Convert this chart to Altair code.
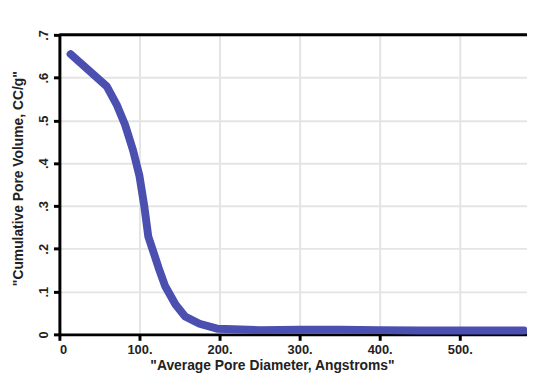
import altair as alt
import pandas as pd

diameter = [14, 59, 72, 82, 92, 100, 106, 111, 117, 124, 132, 145, 157, 175, 198, 250, 300, 350, 400, 450, 500, 540, 580]
volume = [0.655, 0.58, 0.535, 0.49, 0.43, 0.37, 0.30, 0.229, 0.195, 0.155, 0.113, 0.07, 0.042, 0.025, 0.013, 0.010, 0.011, 0.011, 0.010, 0.009, 0.009, 0.009, 0.009]
x_ticks = [0, 100, 200, 300, 400, 500]
y_ticks = [0, 0.1, 0.2, 0.3, 0.4, 0.5, 0.6, 0.7]

df = pd.DataFrame({"d": diameter, "v": volume})

FONT = "Liberation Sans"

x_enc = alt.X("d:Q", scale=alt.Scale(domain=[0, 584], nice=False, zero=False),
              axis=alt.Axis(values=x_ticks, title='"Average Pore Diameter, Angstroms"',
                            labelExpr="datum.value == 0 ? '0' : datum.value + '.'",
                            domainColor="black", domainWidth=3, tickColor="black", tickWidth=3,
                            tickSize=6, labelFontSize=13, labelFontWeight="bold",
                            labelColor="#222", labelPadding=3, titleFontSize=14, titleFontWeight="bold",
                            titleColor="#222", titleX=215, titleY=32, titleBaseline="middle",
                            titleAnchor="start", titleAlign="center",
                            gridColor="#e4e4e4", gridWidth=2, labelFont=FONT, titleFont=FONT))
y_enc = alt.Y("v:Q", scale=alt.Scale(domain=[0, 0.7], nice=False),
              axis=alt.Axis(values=y_ticks, title='"Cumulative Pore Volume, CC/g"',
                            labelExpr="datum.value == 0 ? '0' : replace(format(datum.value, '.1f'), '0.', '.')",
                            labelAngle=270, labelAlign="center", labelBaseline="bottom",
                            domainColor="black", domainWidth=3, tickColor="black", tickWidth=3,
                            tickSize=6, labelFontSize=13, labelFontWeight="bold", labelColor="#222",
                            labelPadding=3, titleFontSize=14, titleFontWeight="bold", titleColor="#222",
                            titleX=-41, titleY=145, titleAngle=270, titleBaseline="middle",
                            titleAlign="center", titleAnchor="start",
                            gridColor="#e4e4e4", gridWidth=2, labelFont=FONT, titleFont=FONT))

line = alt.Chart(df).mark_line(color="#4a4fb0", strokeWidth=8, strokeCap="round",
                               strokeJoin="round", interpolate="linear").encode(x=x_enc, y=y_enc)

top = alt.Chart(pd.DataFrame({"t": [0.7]})).mark_rule(color="black", strokeWidth=3).encode(
    y=alt.Y("t:Q", scale=alt.Scale(domain=[0, 0.7], nice=False)))

chart = alt.layer(top, line).properties(
    width=473, height=303,
    autosize=alt.AutoSizeParams(type="none"),
    padding={"left": 52, "top": 25, "right": 0, "bottom": 45},
).configure_view(stroke=None).configure(background="white")

chart.save("out.html", embed_options={"renderer": "svg", "actions": False})
